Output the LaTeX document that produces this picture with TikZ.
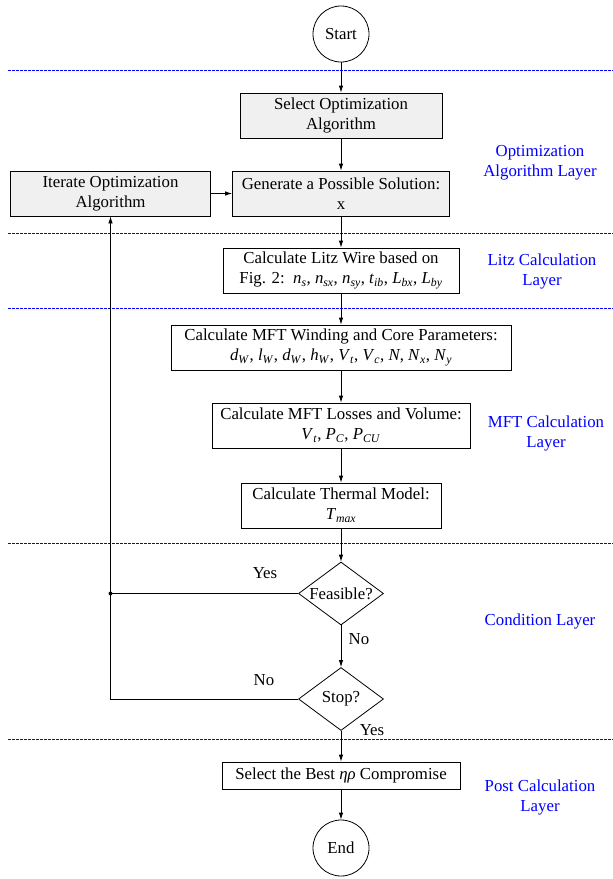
\documentclass[tikz,border=0pt]{standalone}
\usepackage{fontspec}
\setmainfont{Liberation Serif}
\usetikzlibrary{shapes.geometric,arrows.meta}
\definecolor{boxgray}{RGB}{240,240,240}
\newcommand{\mv}[2]{\textit{#1}\textsubscript{\textit{#2}}}
\begin{document}
\begin{tikzpicture}[x=1pt,y=-1pt,
  every node/.style={font=\fontsize{16.8}{20}\selectfont},
  box/.style={draw, line width=0.8pt, rectangle, inner sep=0pt, align=center},
  gbox/.style={box, fill=boxgray},
  term/.style={draw, line width=0.8pt, circle, minimum size=56pt, inner sep=0pt},
  dec/.style={draw, line width=0.8pt, diamond, shape aspect=1.35, inner sep=0pt, minimum width=85pt, minimum height=63pt},
  layer/.style={text=blue, align=center},
  sep/.style={blue, line width=0.7pt, dash pattern=on 2.5pt off 1.5pt},
  arr/.style={line width=0.8pt, -{Latex[length=7pt,width=4.5pt]}},
  ln/.style={line width=0.8pt}]
\useasboundingbox (0,0) rectangle (613,879);

% separators
\foreach \yy in {70,233,308,543,739} \draw[sep] (8,\yy) -- (613,\yy);

% nodes
\node[term] (start) at (341,34) {Start};
\node[gbox, minimum width=202pt, minimum height=45pt] (sel) at (341,115.5) {Select Optimization\\Algorithm};
\node[gbox, minimum width=217pt, minimum height=45pt] (gen) at (341,193.5) {Generate a Possible Solution:\\x};
\node[gbox, minimum width=200pt, minimum height=45pt] (iter) at (110.5,193.5) {Iterate Optimization\\Algorithm};
\node[box, minimum width=236pt, minimum height=45pt] (litz) at (341,270.5) {Calculate Litz Wire based on\\Fig. 2:\ \ \mv{n}{s}, \mv{n}{sx}, \mv{n}{sy}, \mv{t}{ib}, \mv{L}{bx}, \mv{L}{by}};
\node[box, minimum width=340pt, minimum height=45pt] (wind) at (341,347.5) {Calculate MFT Winding and Core Parameters:\\\mv{d}{W}, \mv{l}{W}, \mv{d}{W}, \mv{h}{W}, \mv{V}{t}, \mv{V}{c}, \textit{N}, \mv{N}{x}, \mv{N}{y}};
\node[box, minimum width=258pt, minimum height=45pt] (loss) at (341,425.5) {Calculate MFT Losses and Volume:\\\mv{V}{t}, \mv{P}{C}, \mv{P}{CU}};
\node[box, minimum width=200pt, minimum height=45pt] (therm) at (341,505.5) {Calculate Thermal Model:\\\mv{T}{max}};
\node[dec] (feas) at (341,593.5) {Feasible?};
\node[dec] (stop) at (341,699) {Stop?};
\node[box, minimum width=238pt, minimum height=27pt] (best) at (341,775.5) {Select the Best \textit{ηρ} Compromise};
\node[term] (end) at (341,848) {End};

% layer labels
\node[layer] (l1) at (540,163) {Optimization\\Algorithm Layer};
\node[layer] (l2) at (542,271) {Litz Calculation\\Layer};
\node[layer] (l3) at (546,433) {MFT Calculation\\Layer};
\node[layer] (l4) at (540,621) {Condition Layer};
\node[layer] (l5) at (540,797.5) {Post Calculation\\Layer};

% branch labels
\node (y1) at (265,573) {Yes};
\node (n1) at (359,639) {No};
\node (n2) at (264,680) {No};
\node (y2) at (372,730) {Yes};

% connectors
\draw[arr] (start) -- (sel);
\draw[arr] (sel) -- (gen);
\draw[arr] (iter) -- (gen);
\draw[arr] (gen) -- (litz);
\draw[arr] (litz) -- (wind);
\draw[arr] (wind) -- (loss);
\draw[arr] (loss) -- (therm);
\draw[arr] (therm) -- (feas);
\draw[arr] (feas) -- (stop);
\draw[arr] (stop) -- (best);
\draw[arr] (best) -- (end);
\coordinate (jn) at (feas.west -| iter.south);
\draw[ln] (feas.west) -- (jn);
\fill (jn) circle (2pt);
\draw[arr] (stop.west) -| (iter.south);
\end{tikzpicture}
\end{document}
